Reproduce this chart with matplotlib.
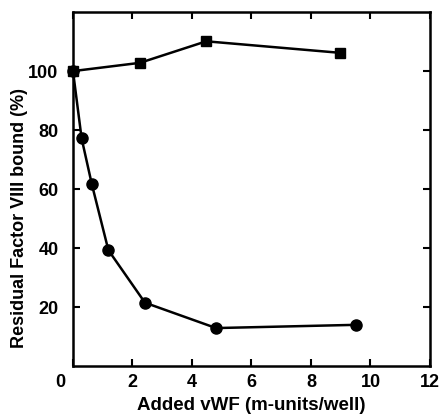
import numpy as np
import matplotlib
matplotlib.use("Agg")
import matplotlib.pyplot as plt
import matplotlib.transforms as mtransforms

# data
square_x = [0, 2.25, 4.48, 8.97]
square_y = [100, 102.8, 110.1, 106.2]
circle_x = [0, 0.29, 0.63, 1.19, 2.42, 4.81, 9.53]
circle_y = [100, 77.2, 61.8, 39.3, 21.5, 12.9, 14.0]

xticks = [0, 2, 4, 6, 8, 10, 12]
yticks = [20, 40, 60, 80, 100]

plt.rcParams['font.family'] = ['Liberation Sans', 'DejaVu Sans']

fig = plt.figure(figsize=(4.41, 4.17), dpi=100)
ax = fig.add_axes([0.1655, 0.122, 0.8095, 0.849])

ax.plot(square_x, square_y, 'k-', marker='s', markersize=7, linewidth=1.8, clip_on=False)
ax.plot(circle_x, circle_y, 'k-', marker='o', markersize=8, linewidth=1.8, clip_on=False)

ax.set_xlim(0, 12)
ax.set_ylim(0, 120)
ax.set_xticks(xticks)
ax.set_yticks(yticks)
ax.tick_params(direction='in', length=5, width=1.5, top=True, right=True,
               labelsize=13)
ax.tick_params(axis='x', pad=6)
ax.tick_params(axis='y', pad=10.5)
for lab in ax.get_xticklabels() + ax.get_yticklabels():
    lab.set_fontweight('bold')
for sp in ax.spines.values():
    sp.set_linewidth(1.8)

# the "0" label sits left of the axis in the original
zero_lab = ax.get_xticklabels()[0]
zero_lab.set_transform(zero_lab.get_transform() +
                       mtransforms.ScaledTranslation(-0.13, 0, fig.dpi_scale_trans))

ax.set_xlabel('Added vWF (m-units/well)', fontsize=13.5, fontweight='bold', labelpad=4)
ax.set_ylabel('Residual Factor VIII bound (%)', fontsize=13, fontweight='bold')
ax.yaxis.set_label_coords(-0.125, 0.418)

fig.savefig('out.png', dpi=100)
